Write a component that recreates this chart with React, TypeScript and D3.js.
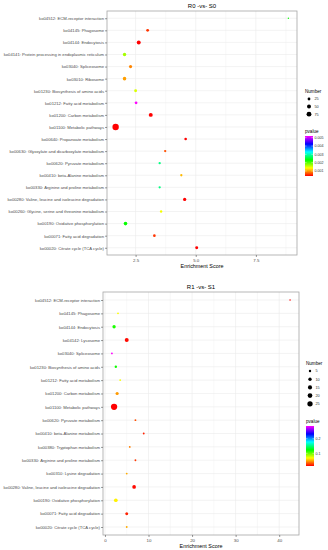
import { useEffect, useRef } from "react";
import * as d3 from "d3";

// R0 -vs- S0
const termsA = [
  "ko04512: ECM-receptor interaction",
  "ko04145: Phagosome",
  "ko04144: Endocytosis",
  "ko04141: Protein processing in endoplasmic reticulum",
  "ko03040: Spliceosome",
  "ko03010: Ribosome",
  "ko01230: Biosynthesis of amino acids",
  "ko01212: Fatty acid metabolism",
  "ko01200: Carbon metabolism",
  "ko01100: Metabolic pathways",
  "ko00640: Propanoate metabolism",
  "ko00630: Glyoxylate and dicarboxylate metabolism",
  "ko00620: Pyruvate metabolism",
  "ko00410: beta-Alanine metabolism",
  "ko00330: Arginine and proline metabolism",
  "ko00280: Valine, leucine and isoleucine degradation",
  "ko00260: Glycine, serine and threonine metabolism",
  "ko00190: Oxidative phosphorylation",
  "ko00071: Fatty acid degradation",
  "ko00020: Citrate cycle (TCA cycle)",
];
const scoreA = [8.85, 3.0, 2.63, 2.04, 2.29, 2.04, 2.5, 2.52, 3.13, 1.67, 4.58, 3.73, 3.5, 4.4, 3.5, 4.54, 3.56, 2.08, 3.28, 5.04];
const countA = [6, 26, 50, 36, 32, 40, 26, 24, 50, 130, 22, 17, 17, 17, 17, 34, 19, 42, 22, 28];
const pvalA = [0.0023, 0.0006, 0.0004, 0.0017, 0.0009, 0.001, 0.0015, 0.0052, 0.0004, 0.0004, 0.0004, 0.0007, 0.0028, 0.0011, 0.0028, 0.0004, 0.0014, 0.0023, 0.0006, 0.0004];
const xTicksA = [2.5, 5.0, 7.5];
const sizeBreaksA = [25, 50, 75];
const pBreaksA = [0.001, 0.002, 0.003, 0.004, 0.005];

// R1 -vs- S1
const termsB = [
  "ko04512: ECM-receptor interaction",
  "ko04145: Phagosome",
  "ko04144: Endocytosis",
  "ko04142: Lysosome",
  "ko03040: Spliceosome",
  "ko01230: Biosynthesis of amino acids",
  "ko01212: Fatty acid metabolism",
  "ko01200: Carbon metabolism",
  "ko01100: Metabolic pathways",
  "ko00620: Pyruvate metabolism",
  "ko00410: beta-Alanine metabolism",
  "ko00380: Tryptophan metabolism",
  "ko00330: Arginine and proline metabolism",
  "ko00310: Lysine degradation",
  "ko00280: Valine, leucine and isoleucine degradation",
  "ko00190: Oxidative phosphorylation",
  "ko00071: Fatty acid degradation",
  "ko00020: Citrate cycle (TCA cycle)",
];
const scoreB = [42.5, 3.0, 2.1, 5.0, 1.6, 2.5, 3.5, 2.8, 2.1, 7.0, 8.9, 5.7, 7.0, 5.0, 6.7, 2.5, 5.0, 5.0];
const countB = [2, 3, 10, 14, 3, 5, 3, 9, 35, 3, 3, 3, 3, 3, 12, 12, 8, 3];
const pvalB = [0.013, 0.068, 0.117, 0.015, 0.287, 0.12, 0.07, 0.046, 0.013, 0.03, 0.02, 0.04, 0.025, 0.05, 0.015, 0.065, 0.02, 0.05];
const xTicksB = [0, 10, 20, 30, 40];
const sizeBreaksB = [5, 10, 15, 20, 25];
const pBreaksB = [0.1, 0.2];

const RAINBOW = ["#FF0000", "#FFFF00", "#00FF00", "#00FFFF", "#0000FF", "#FF00FF"];
const FONT = "Liberation Sans, Arial, sans-serif";

type PanelCfg = {
  id: string;
  title: string;
  terms: string[];
  score: number[];
  count: number[];
  pval: number[];
  xTicks: number[];
  xFmt: (v: number) => string;
  sizeBreaks: number[];
  pBreaks: number[];
  rk: number;
  top: number;
  bottom: number;
  left: number;
  right: number;
  legendX: number;
  numTitleY: number;
  numStep: number;
  pTitleY: number;
  pFmt: (v: number) => string;
};

function drawPanel(svg: d3.Selection<SVGSVGElement, unknown, null, undefined>, c: PanelCfg) {
  const g = svg.append("g");
  const [lo, hi] = d3.extent(c.score) as [number, number];
  const pad = (hi - lo) * 0.05;
  const x = d3.scaleLinear().domain([lo - pad, hi + pad]).range([c.left, c.right]);
  const y = d3.scalePoint<string>().domain(c.terms).range([c.top, c.bottom]).padding(0.6);
  const [pmin, pmax] = d3.extent(c.pval) as [number, number];
  const col = d3
    .scaleLinear<string>()
    .domain(RAINBOW.map((_, i) => pmin + ((pmax - pmin) * i) / (RAINBOW.length - 1)))
    .range(RAINBOW)
    .interpolate(d3.interpolateRgb);
  const r = d3.scaleSqrt().domain([0, 1]).range([0, c.rk]);

  // panel background + grid
  g.append("rect")
    .attr("x", c.left).attr("y", c.top)
    .attr("width", c.right - c.left).attr("height", c.bottom - c.top)
    .attr("fill", "#fff");
  const step = c.xTicks[1] - c.xTicks[0];
  const [d0, d1] = x.domain();
  const minor = d3
    .range(Math.ceil(d0 / (step / 2)), Math.floor(d1 / (step / 2)) + 1)
    .map((k) => k * (step / 2));
  g.selectAll("line.vg")
    .data(minor)
    .join("line")
    .attr("x1", (d) => x(d)).attr("x2", (d) => x(d))
    .attr("y1", c.top).attr("y2", c.bottom)
    .attr("stroke", "#ebebeb")
    .attr("stroke-width", (d) => (c.xTicks.some((m) => Math.abs(m - d) < 1e-9) ? 0.6 : 0.35));
  g.selectAll("line.hg")
    .data(c.terms)
    .join("line")
    .attr("x1", c.left).attr("x2", c.right)
    .attr("y1", (d) => y(d)!).attr("y2", (d) => y(d)!)
    .attr("stroke", "#ebebeb")
    .attr("stroke-width", 0.6);

  // points
  g.selectAll("circle.pt")
    .data(c.terms.map((t, i) => ({ t, s: c.score[i], n: c.count[i], p: c.pval[i] })))
    .join("circle")
    .attr("cx", (d) => x(d.s))
    .attr("cy", (d) => y(d.t)!)
    .attr("r", (d) => r(d.n))
    .attr("fill", (d) => col(d.p));

  g.append("rect")
    .attr("x", c.left).attr("y", c.top)
    .attr("width", c.right - c.left).attr("height", c.bottom - c.top)
    .attr("fill", "none")
    .attr("stroke", "#a6a6a6")
    .attr("stroke-width", 0.8);

  // axes
  const yAxis = g.append("g")
    .attr("transform", `translate(${c.left},0)`)
    .call(d3.axisLeft(y).tickSize(2).tickPadding(1));
  yAxis.select(".domain").remove();
  yAxis.selectAll("line").attr("stroke", "#333").attr("stroke-width", 0.5);
  yAxis.selectAll("text").attr("fill", "#4d4d4d").attr("font-size", 4.2).attr("font-family", FONT);

  const xAxis = g.append("g")
    .attr("transform", `translate(0,${c.bottom})`)
    .call(d3.axisBottom(x).tickValues(c.xTicks).tickSize(2).tickPadding(1.5).tickFormat((d) => c.xFmt(+d)));
  xAxis.select(".domain").remove();
  xAxis.selectAll("line").attr("stroke", "#333").attr("stroke-width", 0.5);
  xAxis.selectAll("text").attr("fill", "#4d4d4d").attr("font-size", 4.4).attr("font-family", FONT);

  const cx = (c.left + c.right) / 2;
  g.append("text")
    .attr("x", cx).attr("y", c.top - 3.5)
    .attr("text-anchor", "middle")
    .attr("font-size", 6).attr("font-family", FONT)
    .text(c.title);
  g.append("text")
    .attr("x", cx).attr("y", c.bottom + 13)
    .attr("text-anchor", "middle")
    .attr("font-size", 5.4).attr("font-family", FONT)
    .text("Enrichment Score");

  // size legend
  const L = g.append("g").attr("font-family", FONT);
  L.append("text").attr("x", c.legendX).attr("y", c.numTitleY).attr("font-size", 4.6).text("Number");
  c.sizeBreaks.forEach((b, i) => {
    const yy = c.numTitleY + 6 + i * c.numStep;
    L.append("circle").attr("cx", c.legendX + 4).attr("cy", yy).attr("r", r(b)).attr("fill", "#000");
    L.append("text").attr("x", c.legendX + 9.5).attr("y", yy + 1.4).attr("font-size", 3.8).attr("fill", "#333").text(String(b));
  });

  // colour legend
  L.append("text").attr("x", c.legendX).attr("y", c.pTitleY).attr("font-size", 4.6).text("pvalue");
  const barTop = c.pTitleY + 3;
  const barH = 40;
  const barW = 8;
  const py = d3.scaleLinear().domain([pmin, pmax]).range([barTop + barH, barTop]);
  const gid = `grad-${c.id}`;
  const grad = svg.append("defs").append("linearGradient")
    .attr("id", gid).attr("x1", 0).attr("y1", 1).attr("x2", 0).attr("y2", 0);
  d3.range(0, 1.0001, 0.05).forEach((t) => {
    grad.append("stop").attr("offset", t).attr("stop-color", col(pmin + t * (pmax - pmin)));
  });
  L.append("rect")
    .attr("x", c.legendX).attr("y", barTop)
    .attr("width", barW).attr("height", barH)
    .attr("fill", `url(#${gid})`);
  c.pBreaks.forEach((b) => {
    const yy = py(b);
    L.append("line").attr("x1", c.legendX).attr("x2", c.legendX + 1.6).attr("y1", yy).attr("y2", yy).attr("stroke", "#fff").attr("stroke-width", 0.4);
    L.append("line").attr("x1", c.legendX + barW - 1.6).attr("x2", c.legendX + barW).attr("y1", yy).attr("y2", yy).attr("stroke", "#fff").attr("stroke-width", 0.4);
    L.append("text").attr("x", c.legendX + barW + 1.5).attr("y", yy + 1.3).attr("font-size", 3.6).attr("fill", "#333").text(c.pFmt(b));
  });
}

export default function App() {
  const svgRef = useRef<SVGSVGElement>(null);

  useEffect(() => {
    const svg = d3.select(svgRef.current!);
    svg.selectAll("*").remove();
    drawPanel(svg, {
      id: "a", title: "R0 -vs- S0",
      terms: termsA, score: scoreA, count: countA, pval: pvalA,
      xTicks: xTicksA, xFmt: d3.format(".1f"),
      sizeBreaks: sizeBreaksA, pBreaks: pBreaksA, rk: 0.28,
      top: 11, bottom: 255, left: 107, right: 297,
      legendX: 305, numTitleY: 93, numStep: 7.6, pTitleY: 133,
      pFmt: d3.format(".3f"),
    });
    drawPanel(svg, {
      id: "b", title: "R1 -vs- S1",
      terms: termsB, score: scoreB, count: countB, pval: pvalB,
      xTicks: xTicksB, xFmt: d3.format("d"),
      sizeBreaks: sizeBreaksB, pBreaks: pBreaksB, rk: 0.53,
      top: 292, bottom: 535, left: 103, right: 299,
      legendX: 306, numTitleY: 365, numStep: 8.2, pTitleY: 423,
      pFmt: d3.format(".1f"),
    });
  }, []);

  return (
    <div style={{ position: "absolute", left: 0, top: 0 }}>
      <svg ref={svgRef} width={328} height={550} style={{ display: "block", background: "#fff" }} />
    </div>
  );
}
